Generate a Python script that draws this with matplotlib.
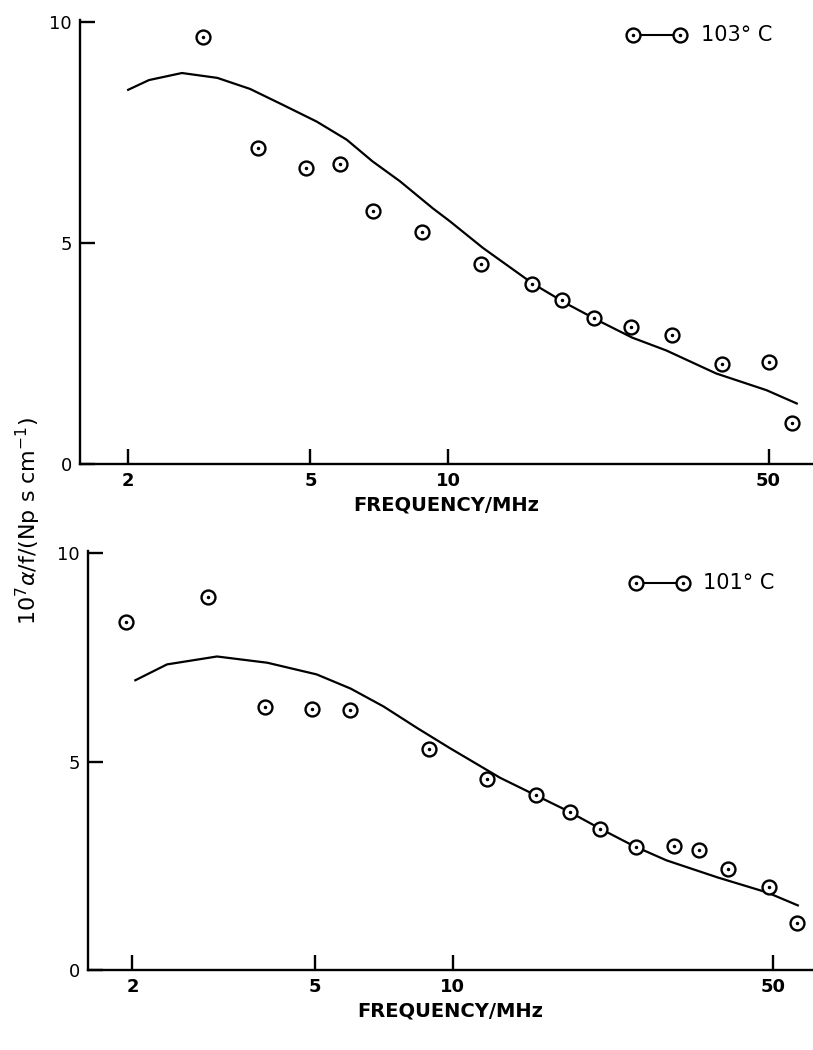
import numpy as np
import matplotlib
matplotlib.use("Agg")
import matplotlib.pyplot as plt

# measured points, 103 C
f_103 = [2.91, 3.84, 4.89, 5.79, 6.83, 8.74, 11.8, 15.2, 17.7, 20.8, 25.0, 30.7, 39.6, 50.0, 56.2]
a_103 = [9.66, 7.16, 6.71, 6.78, 5.72, 5.25, 4.53, 4.08, 3.72, 3.31, 3.11, 2.93, 2.27, 2.30, 0.92]
# theoretical curve, 103 C
fc_103 = [2.0, 2.22, 2.62, 3.13, 3.69, 4.35, 5.16, 6.0, 6.83, 7.84, 9.24, 10.06, 11.9, 15.3, 18.1, 21.3, 25.2, 29.9, 38.4, 49.5, 57.6]
ac_103 = [8.47, 8.69, 8.85, 8.74, 8.49, 8.13, 7.75, 7.34, 6.85, 6.40, 5.79, 5.50, 4.89, 4.08, 3.63, 3.24, 2.86, 2.57, 2.05, 1.67, 1.37]

# measured points, 101 C
f_101 = [1.94, 2.92, 3.90, 4.94, 5.97, 8.86, 11.9, 15.2, 18.0, 21.0, 25.2, 30.4, 34.5, 40.0, 49.0, 56.6]
a_101 = [8.35, 8.95, 6.30, 6.25, 6.23, 5.30, 4.58, 4.20, 3.79, 3.39, 2.96, 2.98, 2.89, 2.43, 2.00, 1.12]
# theoretical curve, 101 C
fc_101 = [2.03, 2.38, 3.06, 3.94, 5.05, 5.99, 7.07, 8.38, 9.87, 12.7, 15.0, 17.8, 21.0, 24.8, 29.3, 37.9, 48.6, 56.7]
ac_101 = [6.95, 7.33, 7.52, 7.37, 7.09, 6.75, 6.32, 5.80, 5.32, 4.61, 4.22, 3.82, 3.39, 2.98, 2.63, 2.22, 1.86, 1.55]

xticks = [2, 5, 10, 50]
yticks = [0, 5, 10]

fig = plt.figure(figsize=(8.13, 10.5), dpi=100)
ax1 = fig.add_axes([80/813, 1-464/1050, 1-80/813, 444/1050])
ax2 = fig.add_axes([88/813, 1-970/1050, 1-88/813, 419/1050])


def circdot(ax, x, y, **kw):
    ax.plot(x, y, 'o', ms=10, mfc='white', mec='black', mew=1.7, **kw)
    ax.plot(x, y, '.', ms=3, color='black', **kw)


def panel(ax, f, a, fc, ac, xlim, label, lx, ly):
    ax.plot(fc, ac, '-', color='black', lw=1.6, solid_joinstyle='round')
    circdot(ax, f, a)
    ax.set_xscale('log')
    ax.set_xlim(*xlim)
    ax.set_ylim(0, 10.05)
    ax.set_xticks(xticks)
    ax.set_xticklabels([str(t) for t in xticks], fontsize=13, fontweight='bold')
    ax.xaxis.set_minor_locator(matplotlib.ticker.NullLocator())
    ax.set_yticks(yticks)
    ax.set_yticklabels([str(t) for t in yticks], fontsize=13)
    ax.tick_params(axis='both', direction='in', length=11, width=1.7, pad=6)
    for s in ['top', 'right']:
        ax.spines[s].set_visible(False)
    for s in ['left', 'bottom']:
        ax.spines[s].set_linewidth(1.7)
    ax.set_xlabel('FREQUENCY/MHz', fontsize=14, fontweight='bold', labelpad=4)
    # legend drawn as marker-line-marker plus text
    t = ax.transAxes
    ax.plot(lx, [ly, ly], '-', color='black', lw=1.5, transform=t)
    ax.plot(lx, [ly, ly], 'o', ms=10, mfc='white', mec='black', mew=1.7, transform=t)
    ax.plot(lx, [ly, ly], '.', ms=3, color='black', transform=t)
    ax.text(lx[1] + 0.028, ly, label, transform=t, fontsize=15, va='center', ha='left')


panel(ax1, f_103, a_103, fc_103, ac_103, (1.57, 62.5), '103° C',
      [(633-80)/733, (680-80)/733], (464-35)/444)
panel(ax2, f_101, a_101, fc_101, ac_101, (1.60, 61.2), '101° C',
      [(636-88)/725, (683-88)/725], (970-583)/419)

fig.text(28/813, 1-521/1050, r'$10^7\alpha$/f/(Np s cm$^{-1}$)', rotation=90,
         fontsize=16, ha='center', va='center')

fig.savefig('out.png', dpi=100)
